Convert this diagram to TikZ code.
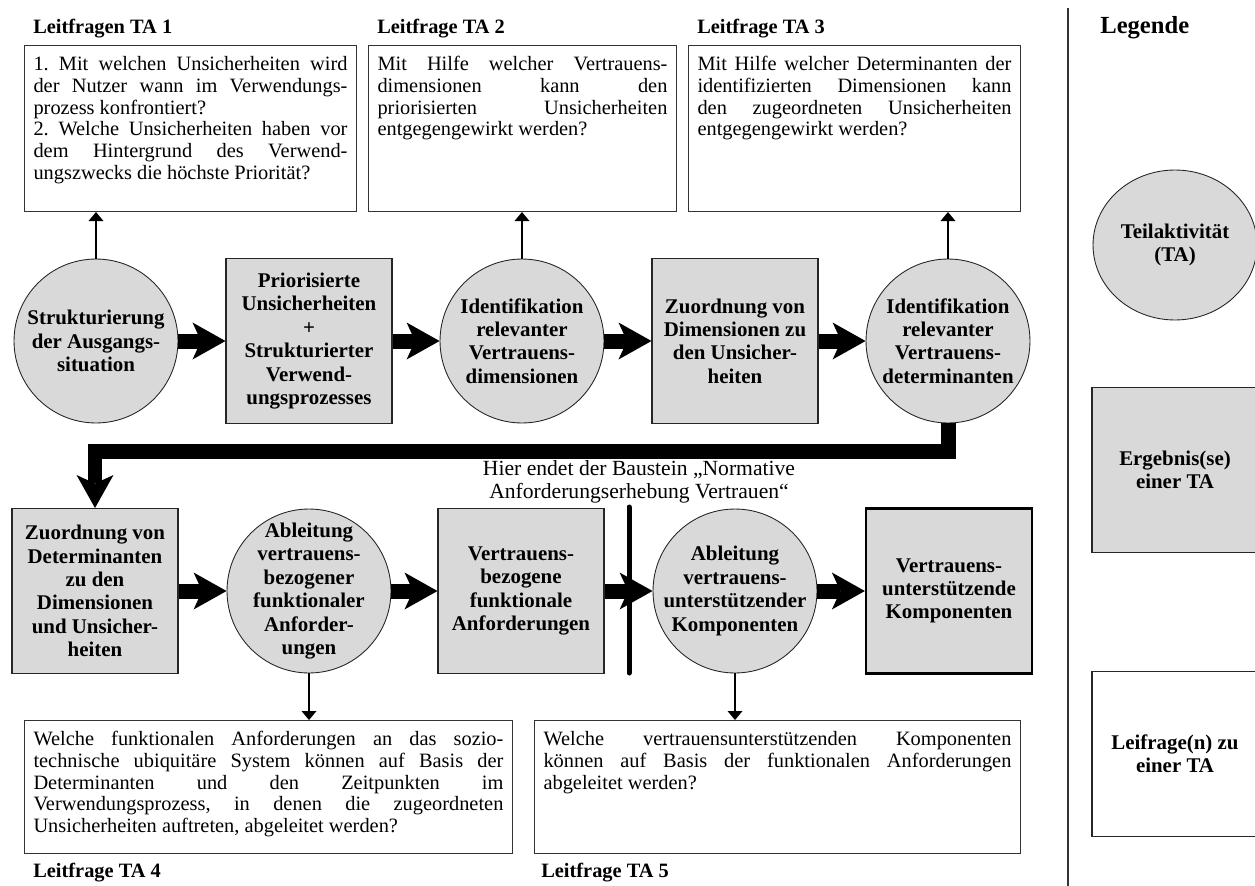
\documentclass[tikz,border=0pt]{standalone}
\usepackage{fontspec}
\setmainfont{Liberation Serif}
\usetikzlibrary{arrows.meta,shapes.geometric}

\definecolor{tagrau}{RGB}{217,217,217}
\newcommand{\zeile}[1]{\makebox[\linewidth][s]{#1}}
\frenchspacing

\begin{document}
\begin{tikzpicture}[x=0.02cm, y=-0.02cm,
  ta/.style={ellipse, draw=black!85, line width=0.5pt, fill=tagrau, inner sep=-10pt,
    minimum width=3.28cm, minimum height=3.28cm, align=center,
    font=\fontsize{11.9}{13.3}\selectfont\bfseries},
  erg/.style={rectangle, draw=black!85, line width=0.6pt, fill=tagrau, inner sep=0pt,
    minimum width=3.32cm, minimum height=3.3cm, align=center,
    font=\fontsize{11.9}{13.3}\selectfont\bfseries},
  frage/.style={rectangle, draw=black!80, line width=0.6pt, anchor=north west,
    inner xsep=0.18cm, inner ysep=0.16cm, text height=0.34cm, align=justify,
    font=\fontsize{11.6}{12.4}\selectfont},
  titel/.style={anchor=base west, inner sep=0pt, font=\fontsize{11.6}{12.4}\selectfont\bfseries},
  fluss/.style={line width=0.3cm, -{Stealth[length=0.66cm, width=0.74cm, inset=0.17cm, line width=0pt]}},
  hin/.style={line width=1.2pt, -{Triangle[length=0.18cm, width=0.3cm, line width=0pt]}},
]
  \useasboundingbox (0,0) rectangle (1255,886);

  % Leitfragen oben
  \node[titel] (t1) at (33,33) {Leitfragen TA 1};
  \node[titel] (t2) at (377,33) {Leitfrage TA 2};
  \node[titel] (t3) at (697,33) {Leitfrage TA 3};
  \node[frage, text width=6.28cm, text depth=2.66cm] (q1) at (24,45)
    {\zeile{1. Mit welchen Unsicherheiten wird}\\
     \zeile{der Nutzer wann im Verwendungs-}\\
     prozess konfrontiert?\\
     \zeile{2. Welche Unsicherheiten haben vor}\\
     \zeile{dem Hintergrund des Verwend-}\\
     ungszwecks die höchste Priorität?};
  \node[frage, text width=5.8cm, text depth=2.66cm] (q2) at (368,45)
    {\zeile{Mit Hilfe welcher Vertrauens-}\\
     \zeile{dimensionen kann den}\\
     \zeile{priorisierten Unsicherheiten}\\
     entgegengewirkt werden?};
  \node[frage, text width=6.28cm, text depth=2.66cm] (q3) at (688,45)
    {\zeile{Mit Hilfe welcher Determinanten der}\\
     \zeile{identifizierten Dimensionen kann}\\
     \zeile{den zugeordneten Unsicherheiten}\\
     entgegengewirkt werden?};

  % erste Reihe
  \node[ta] (c1) at (96,341) {Strukturierung\\der Ausgangs-\\situation};
  \node[erg] (r1) at (309,341) {Priorisierte\\Unsicherheiten\\+\\Strukturierter\\Verwend-\\ungsprozesses};
  \node[ta] (c2) at (522,341) {Identifikation\\relevanter\\Vertrauens-\\dimensionen};
  \node[erg] (r2) at (735,341) {Zuordnung von\\Dimensionen zu\\den Unsicher-\\heiten};
  \node[ta] (c3) at (948,341) {Identifikation\\relevanter\\Vertrauens-\\determinanten};

  % zweite Reihe
  \node[erg] (r3) at (95,591) {Zuordnung von\\Determinanten\\zu den\\Dimensionen\\und Unsicher-\\heiten};
  \node[ta] (c4) at (309,591) {Ableitung\\vertrauens-\\bezogener\\funktionaler\\Anforder-\\ungen};
  \node[erg] (r4) at (521,591) {Vertrauens-\\bezogene\\funktionale\\Anforderungen};
  \node[ta] (c5) at (735,591) {Ableitung\\vertrauens-\\unterstützender\\Komponenten};
  \node[erg, line width=1.3pt, draw=black] (r5) at (949,591) {Vertrauens-\\unterstützende\\Komponenten};

  % Leitfragen unten
  \node[frage, text width=9.4cm, text depth=2.0cm] (q4) at (24,720)
    {\zeile{Welche funktionalen Anforderungen an das sozio-}\\
     \zeile{technische ubiquitäre System können auf Basis der}\\
     \zeile{Determinanten und den Zeitpunkten im}\\
     \zeile{Verwendungsprozess, in denen die zugeordneten}\\
     Unsicherheiten auftreten, abgeleitet werden?};
  \node[frage, text width=9.36cm, text depth=2.0cm] (q5) at (534,720)
    {\zeile{Welche vertrauensunterstützenden Komponenten}\\
     \zeile{können auf Basis der funktionalen Anforderungen}\\
     abgeleitet werden?};
  \node[titel] (t4) at (33,877) {Leitfrage TA 4};
  \node[titel] (t5) at (541,877) {Leitfrage TA 5};

  % Pfeile
  \draw[fluss] (c1) -- (r1);
  \draw[fluss] (r1) -- (c2);
  \draw[fluss] (c2) -- (r2);
  \draw[fluss] (r2) -- (c3);
  \coordinate (knick) at (0,451);
  \draw[fluss] (c3) -- (c3 |- knick) -| (r3);
  \draw[fluss] (r3) -- (c4);
  \draw[fluss] (c4) -- (r4);
  \draw[fluss] (r4) -- (c5);
  \draw[fluss] (c5) -- (r5);

  \draw[hin] (c1) -- (c1 |- q1.south);
  \draw[hin] (c2) -- (c2 |- q2.south);
  \draw[hin] (c3) -- (c3 |- q3.south);
  \draw[hin] (c4) -- (c4 |- q4.north);
  \draw[hin] (c5) -- (c5 |- q5.north);

  % Ende des Bausteins
  \coordinate (grenzeO) at (629,507);
  \coordinate (grenzeU) at (629,673);
  \draw[line width=0.1cm, line cap=round] (grenzeO) -- (grenzeU);
  \node[align=center, inner sep=0pt, font=\fontsize{12.3}{12.8}\selectfont] (ende) at (639,482)
    {Hier endet der Baustein „Normative\\Anforderungserhebung Vertrauen“};

  % Legende
  \coordinate (legO) at (1068,8);
  \coordinate (legU) at (1068,886);
  \draw[line width=1.2pt, black!80] (legO) -- (legU);
  \node[titel, font=\fontsize{14}{16}\selectfont\bfseries] (lt) at (1100,33) {Legende};
  \node[ta, minimum height=3.0cm] (lta) at (1175,245) {Teilaktivität\\(TA)};
  \node[erg] (lerg) at (1175,470) {Ergebnis(se)\\einer TA};
  \node[erg, fill=white] (lfrage) at (1175,754) {Leifrage(n) zu\\einer TA};
\end{tikzpicture}
\end{document}
